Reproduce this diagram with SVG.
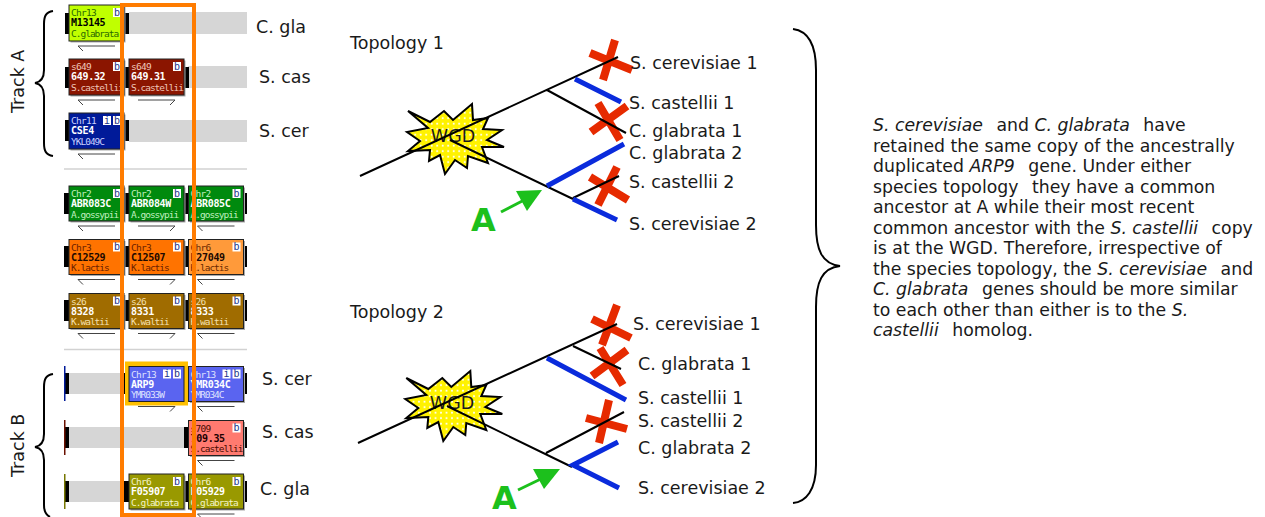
<svg xmlns="http://www.w3.org/2000/svg" width="1265" height="517" viewBox="0 0 1265 517">
<style>
text{font-family:"DejaVu Sans",Verdana,sans-serif;fill:#1a1a1a}
.lab{font-size:17.5px}
.body{font-size:17.3px}
.body .i{font-style:italic}
.band{fill:#d6d6d6}
.cap{fill:#000}
.sep{stroke:#d2d2d2;stroke-width:1.5}
.box{stroke:#222;stroke-width:1}
.sh{fill:#aaa}
.bb{fill:#fff}
.gene text{font-family:"DejaVu Sans Mono","Liberation Mono",monospace;font-size:9.5px;letter-spacing:-.7px}
.gene text.n{font-weight:700;font-size:10px;letter-spacing:-.3px}
.gene text.sp{letter-spacing:-1px}
.gene text.bt{fill:#223388;font-size:10px;letter-spacing:0;text-anchor:middle}
.lime .box{fill:#c0ff00}.lime text{fill:#2a6a00}.lime text.n{fill:#000}
.red .box{fill:#8b1500}.red text{fill:#f0c4b8}.red text.n{fill:#fff}
.navy .box{fill:#001a99}.navy text{fill:#c8d0ff}.navy text.n{fill:#fff}
.green .box{fill:#008a0e}.green text{fill:#c0f0c0}.green text.n{fill:#fff}
.orange .box{fill:#ff7300}.orange text{fill:#6a2000}.orange text.n{fill:#200800}
.lorange .box{fill:#ff9a3a}.lorange text{fill:#6a2800}.lorange text.n{fill:#200800}
.brown .box{fill:#a06c00}.brown text{fill:#f4e0b0}.brown text.n{fill:#fff}
.blue .box{fill:#5a64f0}.blue text{fill:#dfe2ff}.blue text.n{fill:#fff}
.pink .box{fill:#ff7a70}.pink text{fill:#4a0a00}.pink text.n{fill:#200000}
.olive .box{fill:#999900}.olive text{fill:#f4f4c8}.olive text.n{fill:#fff}
.dir{stroke:#444;stroke-width:1;fill:none}
.t{stroke:#000;stroke-width:2;fill:none}
.bl{stroke:#0a2bdc;stroke-width:5;fill:none}
.x{stroke:#e62a00;stroke-width:8;fill:none}
.gr{stroke:#1cc01c;stroke-width:3;fill:none}
.grf{fill:#1cc01c}
.A{font-size:32px;font-weight:700;fill:#1cc01c}
.br{stroke:#000;stroke-width:2;fill:none}
.star{fill:url(#dots);stroke:#000;stroke-width:2}
</style>
<defs>
<pattern id="dots" width="5.5" height="5.5" patternUnits="userSpaceOnUse"><rect width="5.5" height="5.5" fill="#fff200"/><circle cx="2.7" cy="2.7" r="1" fill="#fff"/></pattern>
<polygon id="starp" class="star" points="408,111 430,122 444,111 453,120 472,104 473,120 488,118 483,129 502,130 487,140 504,147 482,147 488,163 468,156 467,168 455,160 445,174 440,155 429,161 430,150 408,151 420,141 407,132 428,128"/>
<path id="dl" class="dir" d="M9,5H46M9,5L14,10"/>
<path id="dr" class="dir" d="M9,5H46M46,5L41,10"/>
</defs>

<g id="tracks">
<rect class="band" x="129" y="12" width="118" height="22"/>
<rect class="band" x="188" y="66" width="59" height="22"/>
<rect class="band" x="129" y="120" width="118" height="22"/>
<rect class="band" x="69" y="373" width="56" height="21"/>
<rect class="band" x="69" y="427" width="116" height="21"/>
<rect class="band" x="69" y="481" width="56" height="21"/>
<path class="sep" d="M64,169H247M64,349.500H247"/>
<path class="cap" d="M65,13h4v21h-4zM124,13h5v21h-5zM65,67h4v21h-4zM124,67h5v21h-5zM184,67h5v21h-5zM65,120h4v21h-4zM124,120h5v21h-5z"/>
<path class="cap" d="M64,193h5v21h-5zM124,193h5v21h-5zM184,193h5v21h-5zM243,193h4v21h-4zM64,246h5v21h-5zM124,246h5v21h-5zM184,246h5v21h-5zM243,246h4v21h-4zM64,300h5v21h-5zM124,300h5v21h-5zM184,300h5v21h-5zM243,300h4v21h-4z"/>
<path class="cap" d="M65,373h4v21h-4zM124,373h5v21h-5zM184,373h5v21h-5zM243,373h4v21h-4zM65,427h4v21h-4zM184,427h5v21h-5zM243,427h4v21h-4zM65,481h4v21h-4zM124,481h5v21h-5zM184,481h5v21h-5zM243,481h4v21h-4z"/>
<rect x="64" y="366" width="1.500" height="35" fill="#001a99"/>
<rect x="64" y="420" width="1.500" height="35" fill="#6a1000"/>
<rect x="64" y="474" width="1.500" height="35" fill="#777700"/>
</g>

<g id="g-m13145" class="gene lime" transform="translate(69,5)"><rect class="sh" x="1.500" y="1.500" width="55" height="36"/><rect class="box" width="55" height="36"/><rect class="bb" x="44" y="3" width="8" height="9"/><text class="bt" x="48" y="10.500">b</text><text x="2" y="11">Chr13</text><text class="n" x="2" y="21">M13145</text><text class="sp" x="2" y="31.500">C.glabrata</text><use href="#dl" y="36"/></g>
<g id="g-649-32" class="gene red" transform="translate(69,59)"><rect class="sh" x="1.500" y="1.500" width="55" height="36"/><rect class="box" width="55" height="36"/><rect class="bb" x="44" y="3" width="8" height="9"/><text class="bt" x="48" y="10.500">b</text><text x="2" y="11">s649</text><text class="n" x="2" y="21">649.32</text><text class="sp" x="2" y="31.500">S.castellii</text><use href="#dl" y="36"/></g>
<g id="g-649-31" class="gene red" transform="translate(129,59)"><rect class="sh" x="1.500" y="1.500" width="55" height="36"/><rect class="box" width="55" height="36"/><rect class="bb" x="44" y="3" width="8" height="9"/><text class="bt" x="48" y="10.500">b</text><text x="2" y="11">s649</text><text class="n" x="2" y="21">649.31</text><text class="sp" x="2" y="31.500">S.castellii</text><use href="#dr" y="36"/></g>
<g id="g-cse4" class="gene navy" transform="translate(69,113)"><rect class="sh" x="1.500" y="1.500" width="55" height="36"/><rect class="box" width="55" height="36"/><rect class="bb" x="34" y="3" width="8" height="9"/><text class="bt" x="38" y="10.500">i</text><rect class="bb" x="44" y="3" width="8" height="9"/><text class="bt" x="48" y="10.500">b</text><text x="2" y="11">Chr11</text><text class="n" x="2" y="21">CSE4</text><text class="sp" x="2" y="31.500">YKL049C</text><use href="#dl" y="36"/></g>

<g id="g-abr083c" class="gene green" transform="translate(69,186)"><rect class="sh" x="1.500" y="1.500" width="55" height="35"/><rect class="box" width="55" height="35"/><rect class="bb" x="44" y="3" width="8" height="9"/><text class="bt" x="48" y="10.500">b</text><text x="2" y="11">Chr2</text><text class="n" x="2" y="21">ABR083C</text><text class="sp" x="2" y="31.500">A.gossypii</text><use href="#dl" y="35"/></g>
<g id="g-abr084w" class="gene green" transform="translate(129,186)"><rect class="sh" x="1.500" y="1.500" width="55" height="35"/><rect class="box" width="55" height="35"/><rect class="bb" x="44" y="3" width="8" height="9"/><text class="bt" x="48" y="10.500">b</text><text x="2" y="11">Chr2</text><text class="n" x="2" y="21">ABR084W</text><text class="sp" x="2" y="31.500">A.gossypii</text><use href="#dr" y="35"/></g>
<g id="g-abr085c" class="gene green" transform="translate(188.500,186)"><rect class="sh" x="1.500" y="1.500" width="55" height="35"/><rect class="box" width="55" height="35"/><rect class="bb" x="44" y="3" width="8" height="9"/><text class="bt" x="48" y="10.500">b</text><text x="2" y="11">Chr2</text><text class="n" x="2" y="21">ABR085C</text><text class="sp" x="2" y="31.500">A.gossypii</text><use href="#dl" y="35"/></g>

<g id="g-c12529" class="gene orange" transform="translate(69,239.500)"><rect class="sh" x="1.500" y="1.500" width="55" height="35"/><rect class="box" width="55" height="35"/><rect class="bb" x="44" y="3" width="8" height="9"/><text class="bt" x="48" y="10.500">b</text><text x="2" y="11">Chr3</text><text class="n" x="2" y="21">C12529</text><text class="sp" x="2" y="31.500">K.lactis</text><use href="#dl" y="35"/></g>
<g id="g-c12507" class="gene orange" transform="translate(129,239.500)"><rect class="sh" x="1.500" y="1.500" width="55" height="35"/><rect class="box" width="55" height="35"/><rect class="bb" x="44" y="3" width="8" height="9"/><text class="bt" x="48" y="10.500">b</text><text x="2" y="11">Chr3</text><text class="n" x="2" y="21">C12507</text><text class="sp" x="2" y="31.500">K.lactis</text><use href="#dr" y="35"/></g>
<g id="g-f27049" class="gene lorange" transform="translate(188.500,239.500)"><rect class="sh" x="1.500" y="1.500" width="55" height="35"/><rect class="box" width="55" height="35"/><rect class="bb" x="44" y="3" width="8" height="9"/><text class="bt" x="48" y="10.500">b</text><text x="2" y="11">Chr6</text><text class="n" x="2" y="21">F27049</text><text class="sp" x="2" y="31.500">K.lactis</text><use href="#dl" y="35"/></g>

<g id="g-8328" class="gene brown" transform="translate(69,293.500)"><rect class="sh" x="1.500" y="1.500" width="55" height="35"/><rect class="box" width="55" height="35"/><rect class="bb" x="44" y="3" width="8" height="9"/><text class="bt" x="48" y="10.500">b</text><text x="2" y="11">s26</text><text class="n" x="2" y="21">8328</text><text class="sp" x="2" y="31.500">K.waltii</text><use href="#dl" y="35"/></g>
<g id="g-8331" class="gene brown" transform="translate(129,293.500)"><rect class="sh" x="1.500" y="1.500" width="55" height="35"/><rect class="box" width="55" height="35"/><rect class="bb" x="44" y="3" width="8" height="9"/><text class="bt" x="48" y="10.500">b</text><text x="2" y="11">s26</text><text class="n" x="2" y="21">8331</text><text class="sp" x="2" y="31.500">K.waltii</text><use href="#dr" y="35"/></g>
<g id="g-8333" class="gene brown" transform="translate(188.500,293.500)"><rect class="sh" x="1.500" y="1.500" width="55" height="35"/><rect class="box" width="55" height="35"/><rect class="bb" x="44" y="3" width="8" height="9"/><text class="bt" x="48" y="10.500">b</text><text x="2" y="11">s26</text><text class="n" x="2" y="21">8333</text><text class="sp" x="2" y="31.500">K.waltii</text><use href="#dl" y="35"/></g>

<g id="g-arp9" class="gene blue" transform="translate(129,366.500)"><rect x="-4" y="-5" width="63" height="44" fill="#ffc000"/><rect class="box" width="55" height="35"/><rect class="bb" x="34" y="3" width="8" height="9"/><text class="bt" x="38" y="10.500">i</text><rect class="bb" x="44" y="3" width="8" height="9"/><text class="bt" x="48" y="10.500">b</text><text x="2" y="11">Chr13</text><text class="n" x="2" y="21">ARP9</text><text class="sp" x="2" y="31.500">YMR033W</text><use href="#dr" y="35"/></g>
<g id="g-ymr034c" class="gene blue" transform="translate(188.500,366.500)"><rect class="sh" x="1.500" y="1.500" width="55" height="35"/><rect class="box" width="55" height="35"/><rect class="bb" x="34" y="3" width="8" height="9"/><text class="bt" x="38" y="10.500">i</text><rect class="bb" x="44" y="3" width="8" height="9"/><text class="bt" x="48" y="10.500">b</text><text x="2" y="11">Chr13</text><text class="n" x="2" y="21">YMR034C</text><text class="sp" x="2" y="31.500">YMR034C</text><use href="#dl" y="35"/></g>
<g id="g-709-35" class="gene pink" transform="translate(188.500,420.500)"><rect class="sh" x="1.500" y="1.500" width="55" height="35"/><rect class="box" width="55" height="35"/><rect class="bb" x="44" y="3" width="8" height="9"/><text class="bt" x="48" y="10.500">b</text><text x="2" y="11">s709</text><text class="n" x="2" y="21">709.35</text><text class="sp" x="2" y="31.500">S.castellii</text><use href="#dl" y="35"/></g>
<g id="g-f05907" class="gene olive" transform="translate(129,474)"><rect class="sh" x="1.500" y="1.500" width="55" height="35"/><rect class="box" width="55" height="35"/><rect class="bb" x="44" y="3" width="8" height="9"/><text class="bt" x="48" y="10.500">b</text><text x="2" y="11">Chr6</text><text class="n" x="2" y="21">F05907</text><text class="sp" x="2" y="31.500">C.glabrata</text><use href="#dr" y="35"/></g>
<g id="g-f05929" class="gene olive" transform="translate(188.500,474)"><rect class="sh" x="1.500" y="1.500" width="55" height="35"/><rect class="box" width="55" height="35"/><rect class="bb" x="44" y="3" width="8" height="9"/><text class="bt" x="48" y="10.500">b</text><text x="2" y="11">Chr6</text><text class="n" x="2" y="21">F05929</text><text class="sp" x="2" y="31.500">C.glabrata</text><use href="#dl" y="35"/></g>

<rect id="highlight" x="122" y="5" width="72" height="510" fill="none" stroke="#ff7c00" stroke-width="4"/>

<g id="track-labels">
<path class="br" d="M53,11C46,12 44,16 44,24V70C44,78 41,82 35,83C41,84 44,88 44,96V143C44,151 46,155 53,156"/>
<path class="br" d="M53,374C46,375 44,379 44,387V434C44,442 41,446 35,447C41,448 44,452 44,460V505C44,511 46,515 50,517"/>
<text class="lab" transform="translate(24,113) rotate(-90)">Track A</text>
<text class="lab" transform="translate(24,477) rotate(-90)">Track B</text>
<text class="lab" x="256" y="33">C. gla</text>
<text class="lab" x="259" y="83">S. cas</text>
<text class="lab" x="259" y="137">S. cer</text>
<text class="lab" x="262" y="385">S. cer</text>
<text class="lab" x="262" y="438">S. cas</text>
<text class="lab" x="260" y="495">C. gla</text>
</g>

<g id="wgd-1"><use href="#starp"/><text class="lab" x="453" y="142" text-anchor="middle">WGD</text></g>
<g id="wgd-2"><use href="#starp" transform="translate(-1.700,267)"/><text class="lab" x="452" y="409" text-anchor="middle">WGD</text></g>

<g id="connectors">
<path class="x" d="M590,53L632,70M615,40L603,80M627,106L591,132M598,103L620,140M590,177L628,200M617,167L598,205"/>
<path class="t" d="M360,176L618,57M450,140L573,199M547,90L626,133M573,198L619,176"/>
<path class="bl" d="M575,79L621,102M547,186L624,144M573,199L617,220"/>
<path class="gr" d="M501,212L530,197"/>
<polygon class="grf" points="542,190 516,191 527,211"/>
<path class="x" d="M592,319L631,338M617,305L602,345M627,350L592,376M600,348L623,385M586,418L627,429M609,400L599,443"/>
<path class="t" d="M358,443L617,324M447,406L572,467M573,346L621,369M546,453L624,412"/>
<path class="bl" d="M547,358L626,400M618,442L573,465L619,488"/>
<path class="gr" d="M518,490L547,476"/>
<polygon class="grf" points="560,469 533,469 544,489"/>
</g>

<g id="topology-1">
<text class="lab" x="350" y="49">Topology 1</text>
<text class="lab" x="630" y="69">S. cerevisiae 1</text>
<text class="lab" x="629" y="109">S. castellii 1</text>
<text class="lab" x="629" y="137">C. glabrata 1</text>
<text class="lab" x="629" y="159">C. glabrata 2</text>
<text class="lab" x="629" y="188">S. castellii 2</text>
<text class="lab" x="629" y="230">S. cerevisiae 2</text>
<text class="A" x="471" y="231">A</text>
</g>
<g id="topology-2">
<text class="lab" x="350" y="318">Topology 2</text>
<text class="lab" x="633" y="330">S. cerevisiae 1</text>
<text class="lab" x="638" y="370">C. glabrata 1</text>
<text class="lab" x="638" y="404">S. castellii 1</text>
<text class="lab" x="638" y="427">S. castellii 2</text>
<text class="lab" x="638" y="454">C. glabrata 2</text>
<text class="lab" x="638" y="494">S. cerevisiae 2</text>
<text class="A" x="492" y="509">A</text>
</g>

<g id="summary">
<path class="br" d="M793,29C808,31 816,45 816,70V225C816,250 822,264 840,266C822,268 816,282 816,307V465C816,490 806,502 793,503"/>
<text class="body" y="131"><tspan x="873" class="i">S. cerevisiae</tspan><tspan dx="8"> and </tspan><tspan class="i">C. glabrata</tspan><tspan dx="8"> have</tspan></text>
<text class="body" x="873" y="151.500">retained the same copy of the ancestrally</text>
<text class="body" y="172"><tspan x="873">duplicated </tspan><tspan class="i">ARP9</tspan><tspan dx="8"> gene. Under either</tspan></text>
<text class="body" y="192.500"><tspan x="873">species topology</tspan><tspan dx="8"> they have a common</tspan></text>
<text class="body" x="873" y="213">ancestor at A while their most recent</text>
<text class="body" y="233.500"><tspan x="873">common ancestor with the </tspan><tspan class="i">S. castellii</tspan><tspan dx="8"> copy</tspan></text>
<text class="body" x="873" y="254">is at the WGD. Therefore, irrespective of</text>
<text class="body" y="274.500"><tspan x="873">the species topology, the </tspan><tspan class="i">S. cerevisiae</tspan><tspan dx="8"> and</tspan></text>
<text class="body" y="295"><tspan x="873" class="i">C. glabrata</tspan><tspan dx="8"> genes should be more similar</tspan></text>
<text class="body" y="315.500"><tspan x="873">to each other than either is to the </tspan><tspan class="i">S.</tspan></text>
<text class="body" y="336"><tspan x="873" class="i">castellii</tspan><tspan dx="8"> homolog.</tspan></text>
</g>
</svg>
